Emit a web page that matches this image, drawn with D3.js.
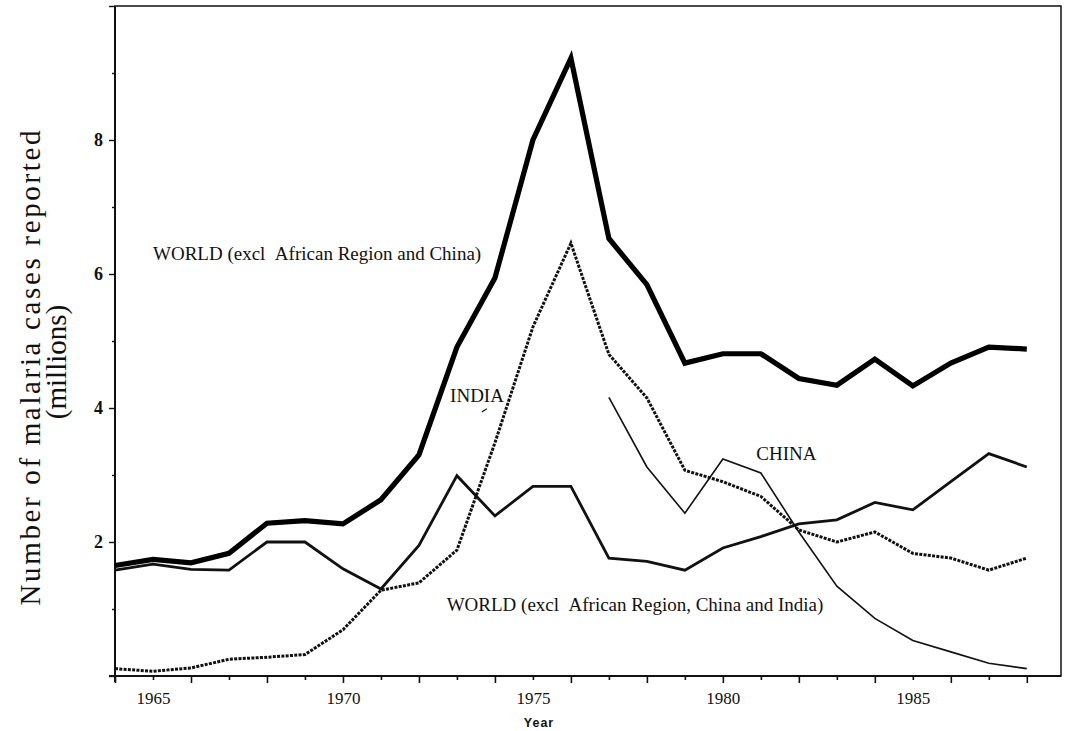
<!DOCTYPE html>
<html>
<head>
<meta charset="utf-8">
<script src="https://cdn.jsdelivr.net/npm/d3@7"></script>
<style>
  body { margin: 0; background: #fff; }
  svg { display: block; }
  text { font-family: "Liberation Serif", "DejaVu Serif", serif; fill: #111; }
</style>
</head>
<body>
<div id="chart"></div>
<script>
// values (millions of reported cases)
const years = [1964, 1965, 1966, 1967, 1968, 1969, 1970, 1971, 1972, 1973, 1974, 1975, 1976,
               1977, 1978, 1979, 1980, 1981, 1982, 1983, 1984, 1985, 1986, 1987, 1988];

const worldExclAfrChina = [1.65, 1.74, 1.69, 1.83, 2.28, 2.32, 2.27, 2.63, 3.30, 4.91, 5.94, 8.00, 9.22,
                           6.53, 5.84, 4.67, 4.81, 4.81, 4.44, 4.34, 4.73, 4.33, 4.67, 4.91, 4.88];

const worldExclAfrChinaIndia = [1.58, 1.67, 1.59, 1.58, 2.00, 2.00, 1.60, 1.30, 1.95, 2.99, 2.39, 2.83, 2.83,
                                1.76, 1.71, 1.58, 1.91, 2.08, 2.27, 2.33, 2.59, 2.48, 2.90, 3.32, 3.12];

const india = [0.11, 0.07, 0.12, 0.25, 0.28, 0.32, 0.69, 1.28, 1.39, 1.88, 3.48, 5.21, 6.46,
               4.80, 4.15, 3.07, 2.90, 2.68, 2.18, 2.00, 2.15, 1.83, 1.76, 1.58, 1.76];

const chinaYears = [1977, 1978, 1979, 1980, 1981, 1982, 1983, 1984, 1985, 1986, 1987, 1988];
const china = [4.16, 3.12, 2.43, 3.24, 3.03, 2.15, 1.34, 0.86, 0.53, 0.36, 0.19, 0.11];

const yTickValues = [0, 1, 2, 3, 4, 5, 6, 7, 8, 9, 10];
const yTickLabels = [2, 4, 6, 8];

const width = 1065, height = 731;

const svg = d3.select("#chart")
  .append("svg")
    .attr("width", width)
    .attr("height", height);

const x = d3.scaleLinear().domain([1964, 1988.9]).range([115, 1061]);
const y = d3.scaleLinear().domain([0, 10]).range([676, 6]);

// frame
svg.append("rect")
  .attr("x", x(1964)).attr("y", y(10))
  .attr("width", x(1988.9) - x(1964)).attr("height", y(0) - y(10))
  .attr("fill", "none").attr("stroke", "#111").attr("stroke-width", 1.5);

// X axis
const xAxis = svg.append("g")
  .attr("transform", `translate(0,${y(0)})`)
  .call(d3.axisBottom(x)
    .tickValues(years)
    .tickSize(7)
    .tickPadding(9)
    .tickFormat(d => d % 5 === 0 ? d : ""))
  .attr("font-family", "Liberation Serif")
  .attr("font-size", 17);
xAxis.select(".domain").remove();
xAxis.selectAll(".tick line")
  .attr("stroke", "#111").attr("stroke-width", 1.6)
  .attr("y2", d => d % 2 === 0 ? 7 : 4);
xAxis.selectAll(".tick text")
  .attr("font-family", "Liberation Serif")
  .attr("font-size", 17)
  .style("font-size", "17px")
  .attr("fill", "#111");

// heavier bottom & left axis lines
svg.append("line")
  .attr("x1", x(1964) - 6).attr("x2", x(1988.9))
  .attr("y1", y(0)).attr("y2", y(0))
  .attr("stroke", "#111").attr("stroke-width", 2);
svg.append("line")
  .attr("x1", x(1964)).attr("x2", x(1964))
  .attr("y1", y(10)).attr("y2", y(0) + 6)
  .attr("stroke", "#111").attr("stroke-width", 2);

// Y axis
const yAxis = svg.append("g")
  .attr("transform", `translate(${x(1964)},0)`)
  .call(d3.axisLeft(y)
    .tickValues(yTickValues)
    .tickSize(6)
    .tickPadding(6)
    .tickFormat(d => yTickLabels.includes(d) ? d : ""))
  .attr("font-family", "Liberation Serif")
  .attr("font-size", 18);
yAxis.select(".domain").remove();
yAxis.selectAll(".tick line")
  .attr("stroke", "#111").attr("stroke-width", 1.4)
  .attr("x2", d => d % 2 === 0 ? -6 : -3);
yAxis.selectAll(".tick text")
  .attr("font-family", "Liberation Serif")
  .attr("font-size", 18)
  .style("font-size", "18px")
  .attr("font-weight", "bold")
  .attr("fill", "#111");

// lines
const line = d3.line()
  .x(d => x(d[0]))
  .y(d => y(d[1]));

svg.append("path")
  .datum(d3.zip(years, worldExclAfrChinaIndia))
  .attr("fill", "none").attr("stroke", "#111")
  .attr("stroke-width", 2.8).attr("stroke-linejoin", "miter")
  .attr("d", line);

svg.append("path")
  .datum(d3.zip(chinaYears, china))
  .attr("fill", "none").attr("stroke", "#111")
  .attr("stroke-width", 1.6)
  .attr("d", line);

svg.append("path")
  .datum(d3.zip(years, india))
  .attr("fill", "none").attr("stroke", "#111")
  .attr("stroke-width", 3)
  .attr("stroke-dasharray", "3,1.3")
  .attr("d", line);

svg.append("path")
  .datum(d3.zip(years, worldExclAfrChina))
  .attr("fill", "none").attr("stroke", "#000")
  .attr("stroke-width", 5.2).attr("stroke-linejoin", "miter")
  .attr("d", line);

// series labels
const labels = [
  {text: "WORLD (excl\u00a0\u00a0African Region and China)", yr: 1965.0, v: 6.21},
  {text: "INDIA", yr: 1972.82, v: 4.09},
  {text: "CHINA", yr: 1980.88, v: 3.22},
  {text: "WORLD (excl\u00a0\u00a0African Region, China and India)", yr: 1972.73, v: 0.97}
];
svg.selectAll(".series-label")
  .data(labels)
  .enter().append("text")
    .attr("class", "series-label")
    .attr("x", d => x(d.yr))
    .attr("y", d => y(d.v))
    .style("font-size", "19px")
    .text(d => d.text);

// little leader mark under INDIA
svg.append("line")
  .attr("x1", x(1972.84) + 31).attr("y1", y(3.94))
  .attr("x2", x(1972.84) + 36).attr("y2", y(3.99))
  .attr("stroke", "#111").attr("stroke-width", 1.2);

// axis titles
svg.append("text")
  .attr("x", 539).attr("y", 727)
  .attr("text-anchor", "middle")
  .style("font-family", "'Liberation Sans', Arial, sans-serif")
  .style("font-size", "12.5px")
  .style("font-weight", "bold")
  .style("letter-spacing", "1px")
  .text("Year");

const yTitle = svg.append("g")
  .attr("transform", "translate(0,368) rotate(-90)");
yTitle.append("text")
  .attr("x", 0).attr("y", 40)
  .attr("text-anchor", "middle")
  .attr("textLength", 475).attr("lengthAdjust", "spacing")
  .style("font-size", "29px")
  .text("Number of malaria cases reported");
yTitle.append("text")
  .attr("x", 6).attr("y", 66)
  .attr("text-anchor", "middle")
  .style("font-size", "29px")
  .text("(millions)");
</script>
</body>
</html>
